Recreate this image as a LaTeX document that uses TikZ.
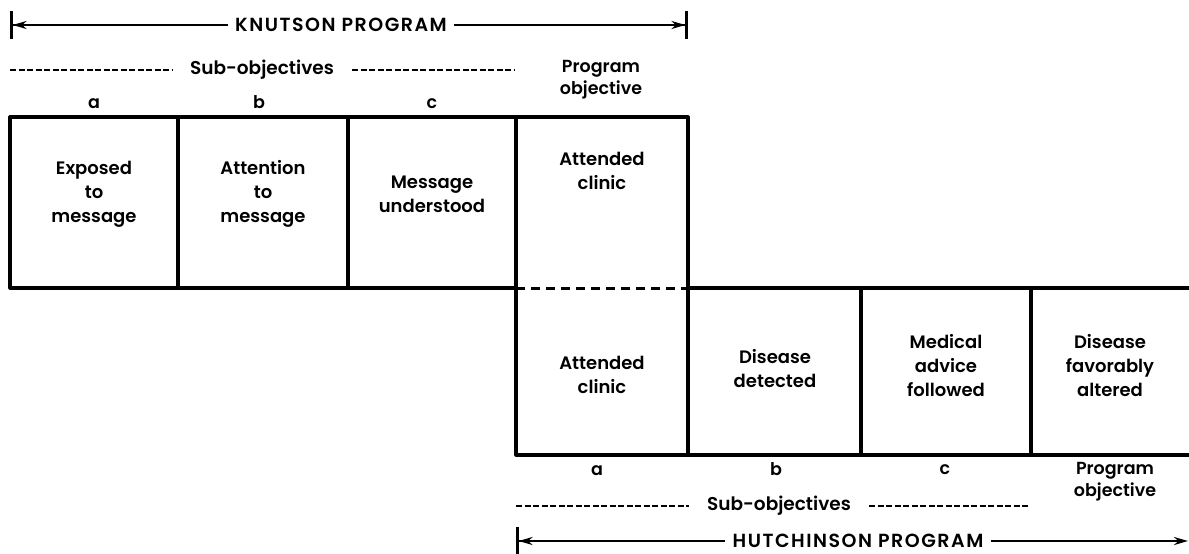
\documentclass[tikz,border=0pt]{standalone}
\usepackage{fontspec}
\setmainfont{Poppins}[UprightFont=* SemiBold]
\usetikzlibrary{arrows.meta}

\begin{document}
\begin{tikzpicture}[x=1pt, y=-1pt,
    frame/.style={line width=3.2pt, line cap=round, line join=round},
    split/.style={line width=3pt, dash pattern=on 9pt off 6pt},
    subdash/.style={line width=2.2pt, dash pattern=on 6pt off 2.5pt},
    span/.style={line width=2.6pt, -{Stealth[length=14pt,width=8pt] Bar[width=28pt,line width=2.6pt]}},
    spanopen/.style={line width=2.6pt, -{Stealth[length=14pt,width=8pt]}},
    cell/.style={align=center, font=\fontsize{18}{24}\selectfont, inner sep=0pt},
    tag/.style={align=center, font=\fontsize{17.5}{22}\selectfont, inner sep=0pt},
    sub/.style={font=\fontsize{18.5}{22}\selectfont, inner ysep=0pt, inner xsep=18pt},
    head/.style={font=\fontsize{19}{22}\selectfont\addfontfeatures{LetterSpace=8},
      inner ysep=0pt, inner xsep=7pt}]
  \useasboundingbox (0,0) rectangle (1189,554);

  % grid of the two programs
  \draw[frame] (516,288) -- (10,288) -- (10,117) -- (688,117) -- (688,455);
  \foreach \x in {178,348} \draw[frame] (\x,117) -- (\x,288);
  \draw[frame] (516,117) -- (516,455) -- (1189,455);
  \draw[frame] (688,288) -- (1189,288);
  \foreach \x in {861,1031} \draw[frame] (\x,288) -- (\x,455);
  \draw[split] (516,288) -- (688,288);

  % Knutson program (top)
  \node[head] (knut) at (341,25) {KNUTSON PROGRAM};
  \coordinate (knutL) at (10,25);
  \coordinate (knutR) at (688,25);
  \draw[span] (knut) -- (knutL);
  \draw[span] (knut) -- (knutR);

  \node[sub] (ksub) at (262,70) {Sub-objectives};
  \coordinate (ksubL) at (10,70);
  \coordinate (ksubR) at (515,70);
  \draw[subdash] (ksubL) -- (ksub);
  \draw[subdash] (ksub) -- (ksubR);
  \node[tag] (kprog) at (601,80) {Program\\objective};
  \node[tag] (ka) at (94,104) {a};
  \node[tag] (kb) at (259,102) {b};
  \node[tag] (kc) at (432,104) {c};

  \node[cell] (expo) at (94,194) {Exposed\\to\\message};
  \node[cell] (atten) at (263,194) {Attention\\to\\message};
  \node[cell] (under) at (432,194) {Message\\understood};
  \node[cell] (clinA) at (602,171) {Attended\\clinic};

  % Hutchinson program (bottom)
  \node[cell] (clinB) at (602,375) {Attended\\clinic};
  \node[cell] (detect) at (775,369) {Disease\\detected};
  \node[cell] (advice) at (946,366) {Medical\\advice\\followed};
  \node[cell] (altered) at (1110,366) {Disease\\favorably\\altered};

  \node[tag] (ha) at (597,471) {a};
  \node[tag] (hb) at (776,469) {b};
  \node[tag] (hc) at (945,470) {c};
  \node[tag] (hprog) at (1115,482) {Program\\objective};
  \node[sub] (hsub) at (779,506) {Sub-objectives};
  \coordinate (hsubL) at (516,506);
  \coordinate (hsubR) at (1029,506);
  \draw[subdash] (hsubL) -- (hsub);
  \draw[subdash] (hsub) -- (hsubR);

  \node[head] (hutch) at (858,541) {HUTCHINSON PROGRAM};
  \coordinate (hutchL) at (516,541);
  \coordinate (hutchR) at (1188,541);
  \draw[span] (hutch) -- (hutchL);
  \draw[spanopen] (hutch) -- (hutchR);
\end{tikzpicture}
\end{document}
